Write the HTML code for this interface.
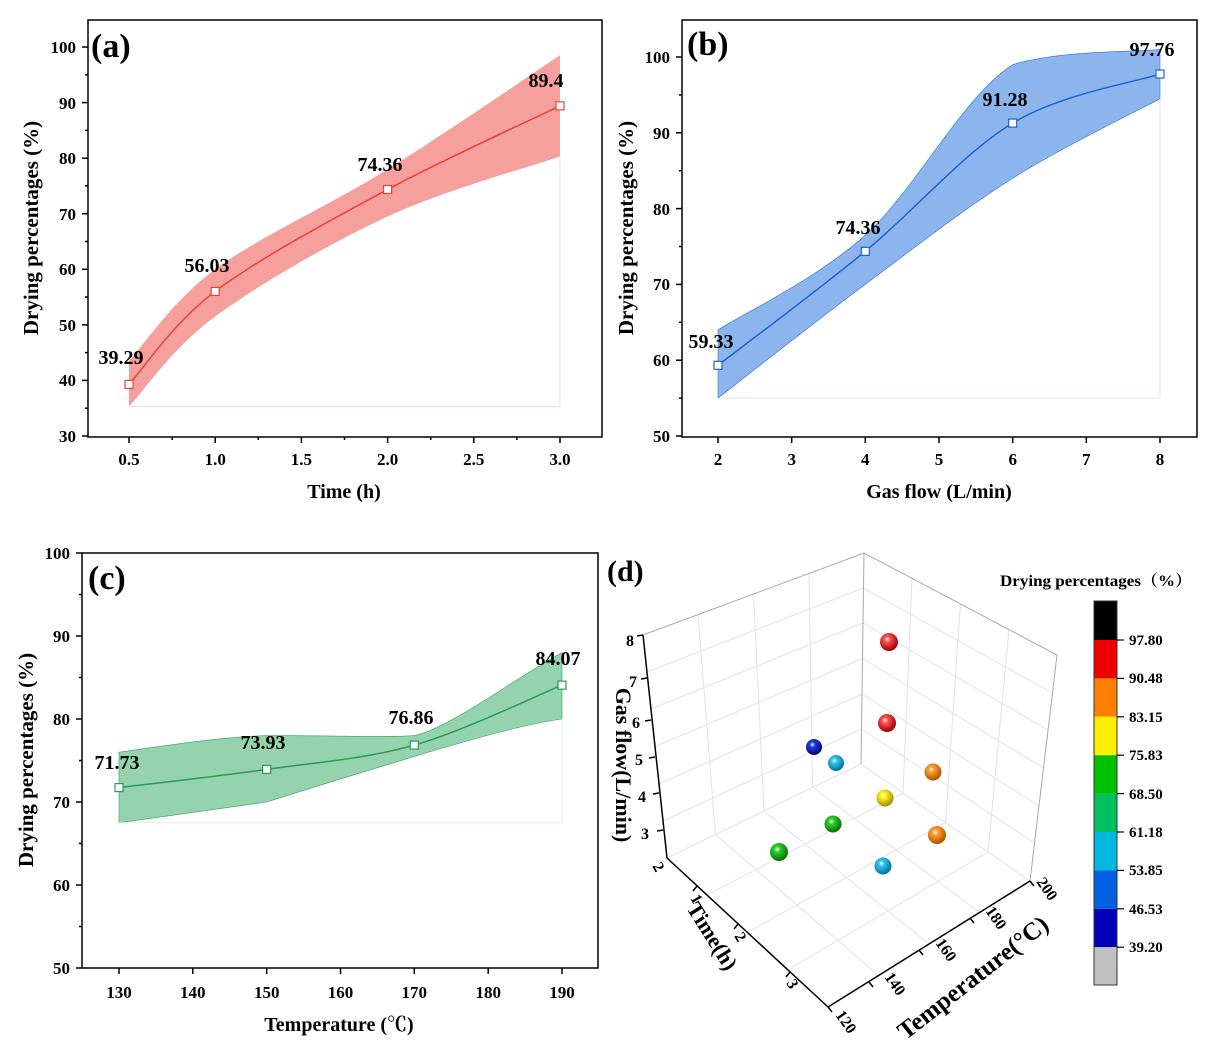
<!DOCTYPE html>
<html><head><meta charset="utf-8"><style>
body{margin:0;background:#fff}
svg{display:block;font-family:"Liberation Serif","Noto Serif CJK SC",serif;font-weight:bold}
</style></head><body>
<svg width="1222" height="1064" viewBox="0 0 1222 1064" xmlns="http://www.w3.org/2000/svg">
<!-- Panel a -->
<g>
<path d="M129,361 C143.4,345.7 172.1,301.3 215.2,269.3 C258.3,237.3 330.1,205 387.6,169.3 C445.1,133.6 531.3,74.3 560,55.3 L560,156.5 C531.3,166.5 445.1,189.8 387.6,216.5 C330.1,243.2 258.3,284.8 215.2,316.5 C172.1,348.2 143.4,391.5 129,406.5 Z" fill="#f5a09c"/>
<path d="M129,406.5 L560,406.5 L560,156.5" fill="none" stroke="#f8dcdc" stroke-width="1"/>
<path d="M129,384.4 C143.4,368.9 172.1,323.9 215.2,291.4 C258.3,258.9 330.1,220.4 387.6,189.5 C445.1,158.6 531.3,119.8 560,105.9" fill="none" stroke="#e8413c" stroke-width="1.5"/>
<g fill="#fff" stroke="#e8413c" stroke-width="1.2">
<rect x="125" y="380.4" width="8" height="8"/><rect x="211.2" y="287.4" width="8" height="8"/><rect x="383.6" y="185.5" width="8" height="8"/><rect x="556" y="101.9" width="8" height="8"/></g>
<rect x="88" y="20" width="514" height="417" fill="none" stroke="#000" stroke-width="1.5"/>
<g stroke="#000" stroke-width="1.5">
<line x1="88" y1="436" x2="82" y2="436"/><line x1="88" y1="380.4" x2="82" y2="380.4"/><line x1="88" y1="324.9" x2="82" y2="324.9"/><line x1="88" y1="269.3" x2="82" y2="269.3"/><line x1="88" y1="213.7" x2="82" y2="213.7"/><line x1="88" y1="158.2" x2="82" y2="158.2"/><line x1="88" y1="102.6" x2="82" y2="102.6"/><line x1="88" y1="47" x2="82" y2="47"/>
<line x1="88" y1="408.2" x2="85" y2="408.2"/><line x1="88" y1="352.6" x2="85" y2="352.6"/><line x1="88" y1="297.1" x2="85" y2="297.1"/><line x1="88" y1="241.5" x2="85" y2="241.5"/><line x1="88" y1="185.9" x2="85" y2="185.9"/><line x1="88" y1="130.4" x2="85" y2="130.4"/><line x1="88" y1="74.8" x2="85" y2="74.8"/>
<line x1="129" y1="437" x2="129" y2="443"/><line x1="215.2" y1="437" x2="215.2" y2="443"/><line x1="301.4" y1="437" x2="301.4" y2="443"/><line x1="387.6" y1="437" x2="387.6" y2="443"/><line x1="473.8" y1="437" x2="473.8" y2="443"/><line x1="560" y1="437" x2="560" y2="443"/>
<line x1="172.1" y1="437" x2="172.1" y2="440"/><line x1="258.3" y1="437" x2="258.3" y2="440"/><line x1="344.5" y1="437" x2="344.5" y2="440"/><line x1="430.7" y1="437" x2="430.7" y2="440"/><line x1="516.9" y1="437" x2="516.9" y2="440"/>
</g>
<g font-size="17" text-anchor="end">
<text x="76" y="442">30</text><text x="76" y="386">40</text><text x="76" y="331">50</text><text x="76" y="275">60</text><text x="76" y="220">70</text><text x="76" y="164">80</text><text x="76" y="109">90</text><text x="76" y="53">100</text></g>
<g font-size="17" text-anchor="middle">
<text x="129" y="465">0.5</text><text x="215.2" y="465">1.0</text><text x="301.4" y="465">1.5</text><text x="387.6" y="465">2.0</text><text x="473.8" y="465">2.5</text><text x="560" y="465">3.0</text></g>
<text x="344" y="498" font-size="20" text-anchor="middle">Time (h)</text>
<text transform="translate(38,228) rotate(-90)" font-size="21" text-anchor="middle">Drying percentages (%)</text>
<text x="91" y="57" font-size="34">(a)</text>
<g font-size="20" text-anchor="middle"><text x="121" y="364">39.29</text><text x="207" y="272">56.03</text><text x="380" y="171">74.36</text><text x="546" y="87">89.4</text></g>
</g>
<!-- Panel b -->
<g>
<path d="M718,329.9 C742.6,314.1 816.2,279.3 865.3,235.1 C914.4,190.9 963.6,95.6 1012.7,64.6 C1061.8,50 1135.4,52 1160,49.4 L1160,98.7 C1135.4,112 1061.8,147.3 1012.7,178.3 C963.6,209.3 914.4,247.8 865.3,284.4 C816.2,321 742.6,379.1 718,398.1 Z" fill="#8cb5ee" stroke="#2f6fd8" stroke-width="0.6"/>
<path d="M718,398.1 L1160,398.1 L1160,98.7" fill="none" stroke="#dce8f8" stroke-width="1"/>
<path d="M718,365.3 C742.6,346.3 816.2,291.7 865.3,251.3 C914.4,210.9 963.6,152.7 1012.7,123.1 C1061.8,93.5 1135.4,82.2 1160,74" fill="none" stroke="#1e63d2" stroke-width="1.5"/>
<g fill="#fff" stroke="#1e63d2" stroke-width="1.2">
<rect x="714" y="361.3" width="8" height="8"/><rect x="861.3" y="247.3" width="8" height="8"/><rect x="1008.7" y="119.1" width="8" height="8"/><rect x="1156" y="70" width="8" height="8"/></g>
<rect x="682" y="20" width="515" height="417" fill="none" stroke="#000" stroke-width="1.5"/>
<g stroke="#000" stroke-width="1.5">
<line x1="682" y1="436" x2="676" y2="436"/><line x1="682" y1="360.2" x2="676" y2="360.2"/><line x1="682" y1="284.4" x2="676" y2="284.4"/><line x1="682" y1="208.6" x2="676" y2="208.6"/><line x1="682" y1="132.8" x2="676" y2="132.8"/><line x1="682" y1="57" x2="676" y2="57"/>
<line x1="682" y1="398.1" x2="679" y2="398.1"/><line x1="682" y1="322.3" x2="679" y2="322.3"/><line x1="682" y1="246.5" x2="679" y2="246.5"/><line x1="682" y1="170.7" x2="679" y2="170.7"/><line x1="682" y1="94.9" x2="679" y2="94.9"/>
<line x1="718" y1="437" x2="718" y2="443"/><line x1="791.7" y1="437" x2="791.7" y2="443"/><line x1="865.3" y1="437" x2="865.3" y2="443"/><line x1="939" y1="437" x2="939" y2="443"/><line x1="1012.7" y1="437" x2="1012.7" y2="443"/><line x1="1086.3" y1="437" x2="1086.3" y2="443"/><line x1="1160" y1="437" x2="1160" y2="443"/>
</g>
<g font-size="17" text-anchor="end">
<text x="670" y="442">50</text><text x="670" y="366">60</text><text x="670" y="290">70</text><text x="670" y="215">80</text><text x="670" y="139">90</text><text x="670" y="63">100</text></g>
<g font-size="17" text-anchor="middle">
<text x="718" y="465">2</text><text x="791.7" y="465">3</text><text x="865.3" y="465">4</text><text x="939" y="465">5</text><text x="1012.7" y="465">6</text><text x="1086.3" y="465">7</text><text x="1160" y="465">8</text></g>
<text x="939" y="498" font-size="20" text-anchor="middle">Gas flow (L/min)</text>
<text transform="translate(633,228) rotate(-90)" font-size="21" text-anchor="middle">Drying percentages (%)</text>
<text x="687" y="55" font-size="34">(b)</text>
<g font-size="20" text-anchor="middle"><text x="711" y="348">59.33</text><text x="858" y="234">74.36</text><text x="1005" y="106">91.28</text><text x="1152" y="56">97.76</text></g>
</g>
<!-- Panel c -->
<g>
<path d="M119,752.2 C170,745 220,737 266.7,735.6 C320,735 380,738 414.3,735.6 C450,728 520,675 562,652.6 L562,719 C520,725 470,740 414.3,756.4 C370,770 320,785 266.7,802 L119,822.8 Z" fill="#94d3ae" stroke="#30a060" stroke-width="0.6"/>
<path d="M119,822.8 L562,822.8 L562,719" fill="none" stroke="#dcf0e4" stroke-width="1"/>
<path d="M119,787.6 C143.6,784.6 217.5,776.5 266.7,769.4 C315.9,762.3 365.1,759.1 414.3,745.1 C463.5,731.1 537.4,695.2 562,685.2" fill="none" stroke="#2a9a58" stroke-width="1.5"/>
<g fill="#fff" stroke="#2a9a58" stroke-width="1.2">
<rect x="115" y="783.6" width="8" height="8"/><rect x="262.7" y="765.4" width="8" height="8"/><rect x="410.3" y="741.1" width="8" height="8"/><rect x="558" y="681.2" width="8" height="8"/></g>
<rect x="82" y="553" width="516" height="415" fill="none" stroke="#000" stroke-width="1.5"/>
<g stroke="#000" stroke-width="1.5">
<line x1="82" y1="968" x2="76" y2="968"/><line x1="82" y1="885" x2="76" y2="885"/><line x1="82" y1="802" x2="76" y2="802"/><line x1="82" y1="719" x2="76" y2="719"/><line x1="82" y1="636" x2="76" y2="636"/><line x1="82" y1="553" x2="76" y2="553"/>
<line x1="82" y1="926.5" x2="79" y2="926.5"/><line x1="82" y1="843.5" x2="79" y2="843.5"/><line x1="82" y1="760.5" x2="79" y2="760.5"/><line x1="82" y1="677.5" x2="79" y2="677.5"/><line x1="82" y1="594.5" x2="79" y2="594.5"/>
<line x1="119" y1="968" x2="119" y2="974"/><line x1="192.8" y1="968" x2="192.8" y2="974"/><line x1="266.7" y1="968" x2="266.7" y2="974"/><line x1="340.5" y1="968" x2="340.5" y2="974"/><line x1="414.3" y1="968" x2="414.3" y2="974"/><line x1="488.2" y1="968" x2="488.2" y2="974"/><line x1="562" y1="968" x2="562" y2="974"/>
</g>
<g font-size="17" text-anchor="end">
<text x="70" y="974">50</text><text x="70" y="891">60</text><text x="70" y="808">70</text><text x="70" y="725">80</text><text x="70" y="642">90</text><text x="70" y="559">100</text></g>
<g font-size="17" text-anchor="middle">
<text x="119" y="998">130</text><text x="192.8" y="998">140</text><text x="266.7" y="998">150</text><text x="340.5" y="998">160</text><text x="414.3" y="998">170</text><text x="488.2" y="998">180</text><text x="562" y="998">190</text></g>
<text x="339" y="1031" font-size="20" text-anchor="middle">Temperature (℃)</text>
<text transform="translate(33,760) rotate(-90)" font-size="21" text-anchor="middle">Drying percentages (%)</text>
<text x="88" y="589" font-size="34">(c)</text>
<g font-size="20" text-anchor="middle"><text x="117" y="769">71.73</text><text x="263" y="749">73.93</text><text x="411" y="724">76.86</text><text x="558" y="665">84.07</text></g>
</g>
<!-- Panel d -->
<g>
<defs>
<radialGradient id="gr" cx="0.4" cy="0.35" r="0.65"><stop offset="0" stop-color="#fff"/><stop offset="0.25" stop-color="#ff5050"/><stop offset="1" stop-color="#900"/></radialGradient>
<radialGradient id="go" cx="0.4" cy="0.35" r="0.65"><stop offset="0" stop-color="#fff"/><stop offset="0.25" stop-color="#ffa030"/><stop offset="1" stop-color="#b05000"/></radialGradient>
<radialGradient id="gy" cx="0.4" cy="0.35" r="0.65"><stop offset="0" stop-color="#fff"/><stop offset="0.25" stop-color="#fff020"/><stop offset="1" stop-color="#a09000"/></radialGradient>
<radialGradient id="gg" cx="0.4" cy="0.35" r="0.65"><stop offset="0" stop-color="#fff"/><stop offset="0.25" stop-color="#30d030"/><stop offset="1" stop-color="#007000"/></radialGradient>
<radialGradient id="gc" cx="0.4" cy="0.35" r="0.65"><stop offset="0" stop-color="#fff"/><stop offset="0.25" stop-color="#30c8f0"/><stop offset="1" stop-color="#0070a0"/></radialGradient>
<radialGradient id="gb" cx="0.4" cy="0.35" r="0.65"><stop offset="0" stop-color="#fff"/><stop offset="0.25" stop-color="#2040e0"/><stop offset="1" stop-color="#000070"/></radialGradient>
</defs>
<g stroke="#e2e2e2" stroke-width="1" fill="none">
<line x1="663" y1="821" x2="861.5" y2="729"/><line x1="861.5" y1="729" x2="1034.5" y2="843"/>
<line x1="659" y1="784" x2="862" y2="694"/><line x1="862" y1="694" x2="1039" y2="806"/>
<line x1="655" y1="746.5" x2="862.5" y2="658.5"/><line x1="862.5" y1="658.5" x2="1043.5" y2="768"/>
<line x1="651" y1="709" x2="863" y2="623"/><line x1="863" y1="623" x2="1048" y2="730"/>
<line x1="647" y1="672" x2="863.5" y2="588"/><line x1="863.5" y1="588" x2="1052.5" y2="693"/>
<line x1="698" y1="615" x2="715.5" y2="834.5"/><line x1="753.5" y1="594" x2="764" y2="811"/><line x1="809" y1="574" x2="812.5" y2="787"/>
<line x1="912" y1="578.5" x2="903" y2="793"/><line x1="960.5" y1="604" x2="945.5" y2="822.5"/><line x1="1009" y1="629.5" x2="988" y2="852"/>
<line x1="715.5" y1="834.5" x2="878.5" y2="975.5"/><line x1="764" y1="811" x2="929" y2="944"/><line x1="812.5" y1="787" x2="979.5" y2="912.5"/>
<line x1="707" y1="895" x2="903" y2="793"/><line x1="747.5" y1="932.5" x2="945.5" y2="822.5"/><line x1="787.5" y1="970" x2="988" y2="852"/>
<line x1="667" y1="858" x2="861" y2="764"/><line x1="861" y1="764" x2="1030" y2="881"/>
</g>
<g stroke="#a8a8a8" stroke-width="1" fill="none">
<polyline points="643,635 864,553 1057,655 1030,881"/><line x1="864" y1="553" x2="861" y2="764"/>
</g>
<g stroke="#000" stroke-width="1.5" fill="none">
<line x1="643" y1="635" x2="667" y2="858"/><line x1="667" y1="858" x2="828" y2="1007"/><line x1="828" y1="1007" x2="1030" y2="881"/>
<line x1="643" y1="635" x2="637" y2="636"/><line x1="647" y1="678" x2="641" y2="679"/><line x1="651" y1="720" x2="645" y2="721"/><line x1="655" y1="757" x2="649" y2="758"/><line x1="659" y1="793" x2="653" y2="794"/><line x1="663" y1="830" x2="657" y2="831"/>
<line x1="697" y1="886" x2="693" y2="891"/><line x1="738" y1="924" x2="734" y2="929"/><line x1="790" y1="972" x2="786" y2="977"/>
<line x1="869" y1="982" x2="873" y2="987"/><line x1="919" y1="950" x2="923" y2="955"/><line x1="970" y1="918" x2="974" y2="923"/><line x1="1030" y1="881" x2="1034" y2="886"/><line x1="828" y1="1007" x2="832" y2="1012"/>
</g>
<g font-size="16">
<text x="626" y="646">8</text><text x="629" y="687">7</text><text x="632" y="728">6</text><text x="635" y="765">5</text><text x="638" y="802">4</text><text x="641" y="839">3</text>
<text transform="translate(652,866) rotate(60)">2</text>
<text transform="translate(690,898) rotate(60)">1</text><text transform="translate(734,936) rotate(60)">2</text><text transform="translate(786,983) rotate(60)">3</text>
<text transform="translate(835,1015) rotate(55)">120</text><text transform="translate(884,977) rotate(55)">140</text><text transform="translate(935,943) rotate(55)">160</text><text transform="translate(985,911) rotate(55)">180</text><text transform="translate(1036,882) rotate(55)">200</text>
</g>
<text transform="translate(616,765) rotate(90)" font-size="22" text-anchor="middle">Gas flow(L/min)</text>
<text transform="translate(706,940) rotate(58)" font-size="22" text-anchor="middle">Time(h)</text>
<text transform="translate(978,984) rotate(-38)" font-size="25" text-anchor="middle">Temperature(°C)</text>
<circle cx="889" cy="642" r="9" fill="url(#gr)"/><circle cx="887" cy="723" r="9" fill="url(#gr)"/>
<circle cx="814" cy="747" r="8" fill="url(#gb)"/><circle cx="836" cy="763" r="8" fill="url(#gc)"/>
<circle cx="933" cy="772" r="8.5" fill="url(#go)"/><circle cx="885" cy="798" r="8.5" fill="url(#gy)"/>
<circle cx="833" cy="824" r="8.5" fill="url(#gg)"/><circle cx="937" cy="835" r="9" fill="url(#go)"/>
<circle cx="779" cy="852" r="9" fill="url(#gg)"/><circle cx="883" cy="866" r="8.5" fill="url(#gc)"/>
<text x="607" y="581" font-size="30">(d)</text>
<text x="1000" y="586" font-size="16" textLength="192" lengthAdjust="spacingAndGlyphs">Drying percentages（%）</text>
<g stroke="none">
<rect x="1094" y="601" width="23" height="39" fill="#000"/>
<rect x="1094" y="640" width="23" height="38.4" fill="#ee0000"/>
<rect x="1094" y="678.4" width="23" height="38.4" fill="#ff7f00"/>
<rect x="1094" y="716.8" width="23" height="38.4" fill="#ffee00"/>
<rect x="1094" y="755.2" width="23" height="38.4" fill="#00c000"/>
<rect x="1094" y="793.6" width="23" height="38.4" fill="#00c060"/>
<rect x="1094" y="832" width="23" height="38.4" fill="#00b8e0"/>
<rect x="1094" y="870.4" width="23" height="38.4" fill="#0060e0"/>
<rect x="1094" y="908.8" width="23" height="38.4" fill="#0000b8"/>
<rect x="1094" y="947.2" width="23" height="38" fill="#c0c0c0"/>
</g>
<rect x="1094" y="601" width="23" height="384" fill="none" stroke="#333" stroke-width="1"/>
<g stroke="#000" stroke-width="1.2">
<line x1="1117" y1="640" x2="1124" y2="640"/><line x1="1117" y1="678.4" x2="1124" y2="678.4"/><line x1="1117" y1="716.8" x2="1124" y2="716.8"/><line x1="1117" y1="755.2" x2="1124" y2="755.2"/><line x1="1117" y1="793.6" x2="1124" y2="793.6"/><line x1="1117" y1="832" x2="1124" y2="832"/><line x1="1117" y1="870.4" x2="1124" y2="870.4"/><line x1="1117" y1="908.8" x2="1124" y2="908.8"/><line x1="1117" y1="947.2" x2="1124" y2="947.2"/>
</g>
<g font-size="15">
<text x="1129" y="645">97.80</text><text x="1129" y="683">90.48</text><text x="1129" y="722">83.15</text><text x="1129" y="760">75.83</text><text x="1129" y="799">68.50</text><text x="1129" y="837">61.18</text><text x="1129" y="875">53.85</text><text x="1129" y="914">46.53</text><text x="1129" y="952">39.20</text>
</g>
</g>
</svg>
</body></html>
